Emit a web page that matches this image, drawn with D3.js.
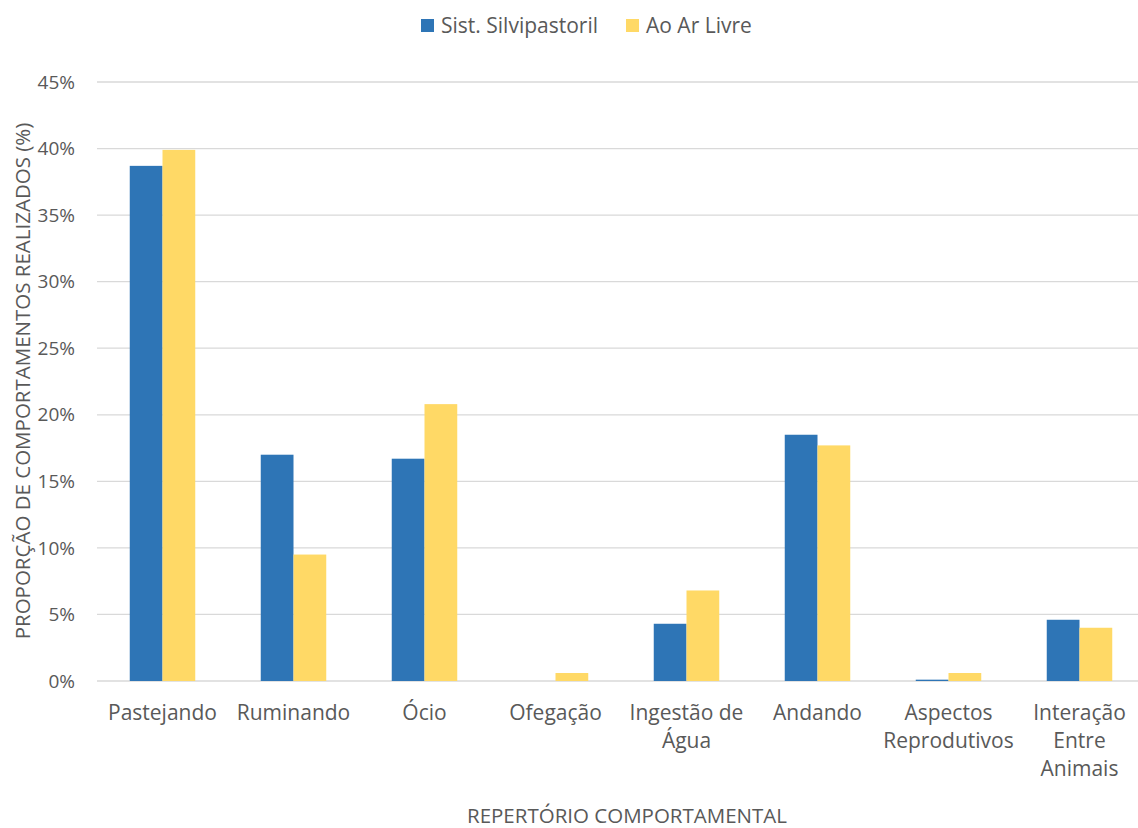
<!DOCTYPE html>
<html>
<head>
<meta charset="utf-8">
<script src="https://cdn.jsdelivr.net/npm/d3@7"></script>
<style>
  body { margin: 0; background: #fff; }
  text { font-family: "Open Sans", sans-serif; fill: #595959; }
</style>
</head>
<body>
<svg width="1138" height="828"></svg>
<script>
const categories = [
  ['Pastejando'],
  ['Ruminando'],
  ['Ócio'],
  ['Ofegação'],
  ['Ingestão de', 'Água'],
  ['Andando'],
  ['Aspectos', 'Reprodutivos'],
  ['Interação', 'Entre', 'Animais']
];
const seriesNames = ['Sist. Silvipastoril', 'Ao Ar Livre'];
const silvipastoril = [38.7, 17.0, 16.7, 0, 4.3, 18.5, 0.1, 4.6];
const arLivre = [39.9, 9.5, 20.8, 0.6, 6.8, 17.7, 0.6, 4.0];
const yTicks = [0, 5, 10, 15, 20, 25, 30, 35, 40, 45];
const colors = ['#2E75B6', '#FFD966'];

const svg = d3.select('svg');
const plotLeft = 97, plotRight = 1145, plotTop = 82, plotBottom = 681;

const x = d3.scaleBand()
  .domain(d3.range(categories.length))
  .range([plotLeft, plotRight])
  .paddingInner(0)
  .paddingOuter(0);

const xs = d3.scaleBand()
  .domain([0, 1])
  .range([0, x.bandwidth()])
  .paddingInner(0)
  .paddingOuter(1);

const y = d3.scaleLinear().domain([0, 45]).range([plotBottom, plotTop]);

// gridlines
svg.append('g')
  .selectAll('line')
  .data(yTicks)
  .enter()
  .append('line')
  .attr('x1', plotLeft)
  .attr('x2', plotRight)
  .attr('y1', d => y(d))
  .attr('y2', d => y(d))
  .attr('stroke', '#d9d9d9')
  .attr('stroke-width', 1.3);

// y labels
svg.append('g')
  .selectAll('text')
  .data(yTicks)
  .enter()
  .append('text')
  .attr('x', 75)
  .attr('y', d => y(d))
  .attr('dy', '0.35em')
  .attr('text-anchor', 'end')
  .style('font-size', '19px')
  .text(d => d + '%');

// bars
const data = categories.map((c, i) => ({ i, vals: [silvipastoril[i], arLivre[i]] }));
const groups = svg.append('g')
  .selectAll('g')
  .data(data)
  .enter()
  .append('g')
  .attr('transform', d => `translate(${x(d.i)},0)`);

groups.selectAll('rect')
  .data(d => d.vals)
  .enter()
  .append('rect')
  .attr('x', (_, j) => xs(j))
  .attr('width', xs.bandwidth())
  .attr('y', d => y(d))
  .attr('height', d => plotBottom - y(d))
  .attr('fill', (_, j) => colors[j]);

// x labels
const xl = svg.append('g')
  .selectAll('text')
  .data(categories)
  .enter()
  .append('text')
  .attr('x', (_, i) => x(i) + x.bandwidth() / 2)
  .attr('y', 720)
  .attr('text-anchor', 'middle')
  .style('font-size', '21px');
xl.selectAll('tspan')
  .data(d => d)
  .enter()
  .append('tspan')
  .attr('x', function () { return this.parentNode.getAttribute('x'); })
  .attr('dy', (_, k) => (k === 0 ? 0 : 28))
  .text(d => d);

// axis titles
svg.append('text')
  .attr('x', 627)
  .attr('y', 823)
  .attr('text-anchor', 'middle')
  .style('font-size', '20.5px')
  .text('REPERTÓRIO COMPORTAMENTAL');

svg.append('text')
  .attr('transform', 'translate(30,381) rotate(-90)')
  .attr('text-anchor', 'middle')
  .style('font-size', '20.5px')
  .text('PROPORÇÃO DE COMPORTAMENTOS REALIZADOS (%)');

// legend
const legend = svg.append('g');
const legendX = [421, 626];
seriesNames.forEach((name, j) => {
  legend.append('rect')
    .attr('x', legendX[j])
    .attr('y', 19)
    .attr('width', 13)
    .attr('height', 13)
    .attr('fill', colors[j]);
  legend.append('text')
    .attr('x', legendX[j] + 20)
    .attr('y', 26)
    .attr('dy', '0.35em')
    .style('font-size', '21px')
    .text(name);
});
</script>
</body>
</html>
